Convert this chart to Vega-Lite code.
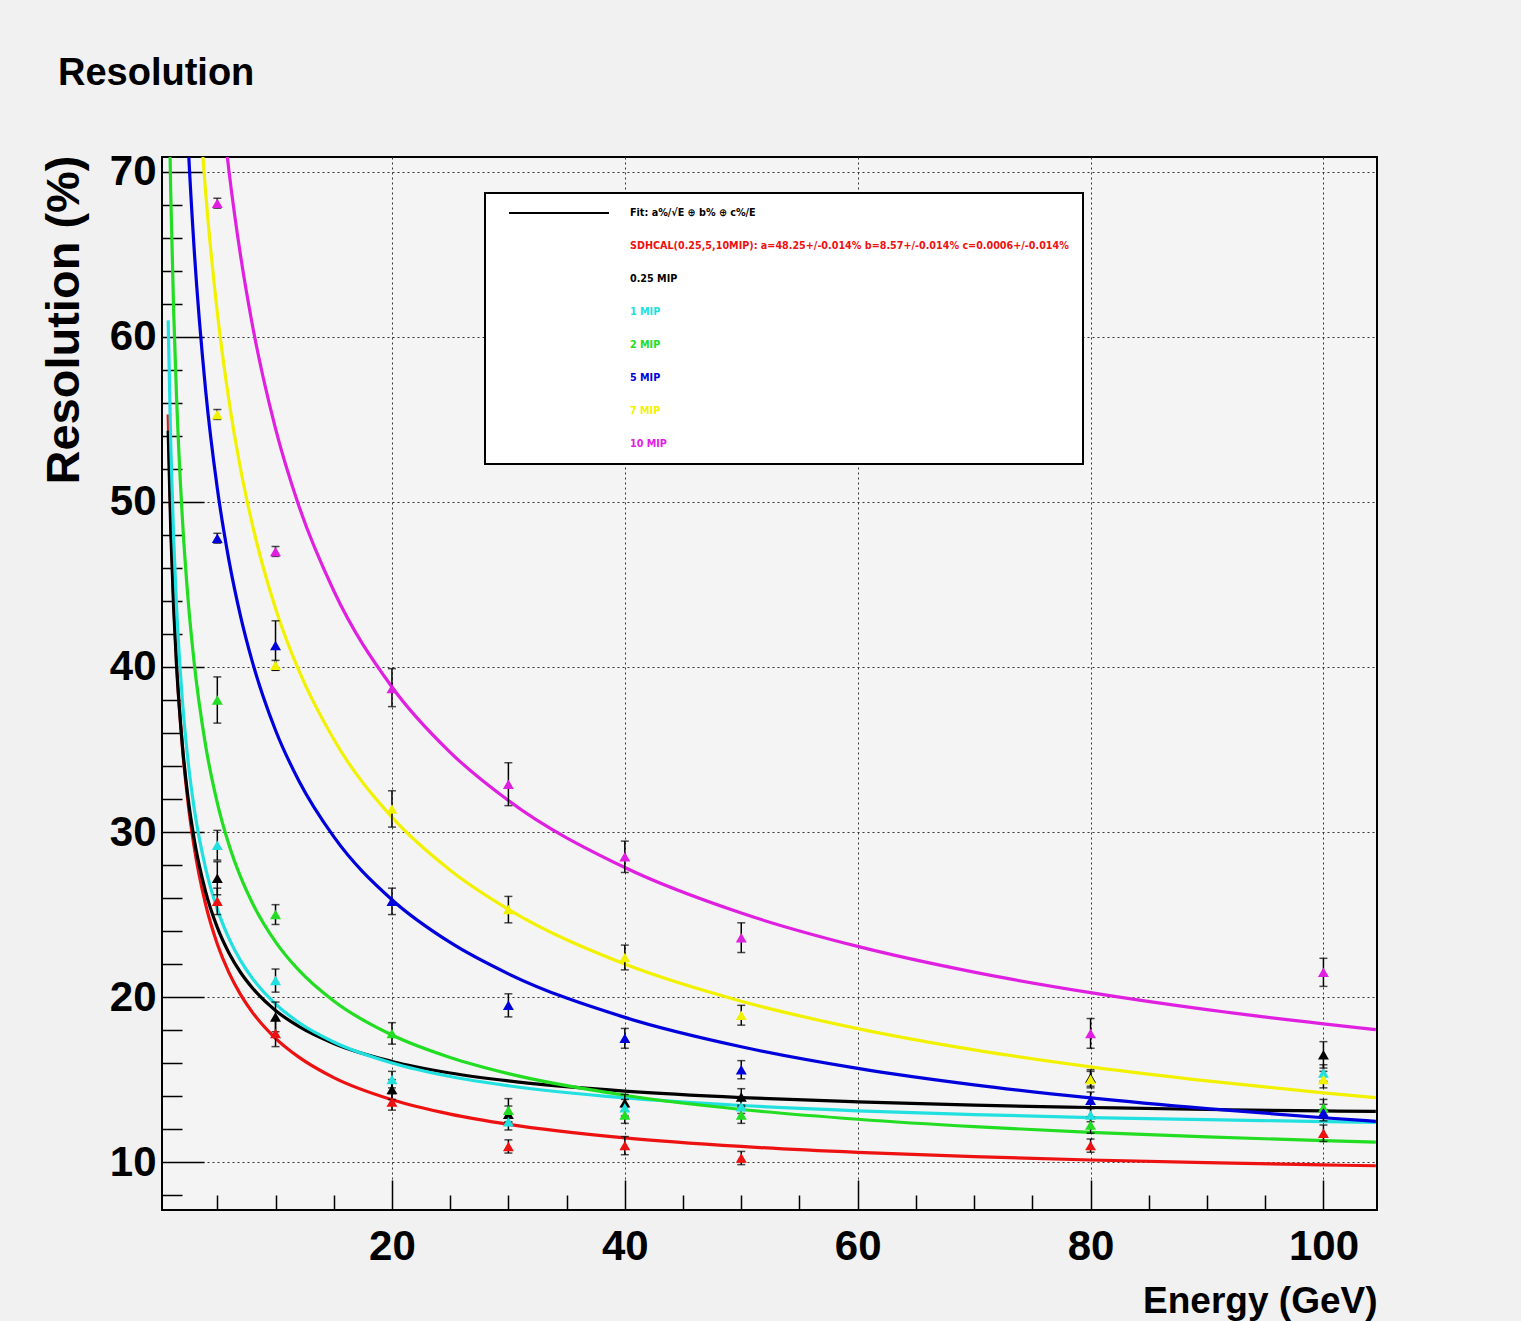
{
  "$schema": "https://vega.github.io/schema/vega-lite/v6.json",
  "width": 1215,
  "height": 1053,
  "autosize": {"type": "none"},
  "padding": {"left": 162, "top": 157, "right": 144, "bottom": 111},
  "background": "#f1f1f1",
  "title": {
    "text": "Resolution",
    "anchor": "start",
    "frame": "group",
    "dx": -104,
    "offset": 28,
    "baseline": "alphabetic",
    "font": "Liberation Sans, Arial, sans-serif",
    "fontSize": 38,
    "fontWeight": "bold",
    "color": "black"
  },
  "config": {
    "view": {"fill": "#f4f4f4", "stroke": "black", "strokeWidth": 2}
  },
  "datasets": {
    "curves": [
      {"s":"SDHCAL","E":0.78,"r":55.30},{"s":"SDHCAL","E":1,"r":49.01},{"s":"SDHCAL","E":1.25,"r":44.00},{"s":"SDHCAL","E":1.5,"r":40.32},{"s":"SDHCAL","E":2,"r":35.18},{"s":"SDHCAL","E":2.5,"r":31.70},{"s":"SDHCAL","E":3,"r":29.15},{"s":"SDHCAL","E":4,"r":25.60},{"s":"SDHCAL","E":5,"r":23.22},{"s":"SDHCAL","E":6,"r":21.48},{"s":"SDHCAL","E":7,"r":20.15},{"s":"SDHCAL","E":8,"r":19.09},{"s":"SDHCAL","E":10,"r":17.50},{"s":"SDHCAL","E":12,"r":16.36},{"s":"SDHCAL","E":15,"r":15.12},{"s":"SDHCAL","E":20,"r":13.78},{"s":"SDHCAL","E":25,"r":12.91},{"s":"SDHCAL","E":30,"r":12.29},{"s":"SDHCAL","E":40,"r":11.47},{"s":"SDHCAL","E":50,"r":10.95},{"s":"SDHCAL","E":60,"r":10.59},{"s":"SDHCAL","E":70,"r":10.33},{"s":"SDHCAL","E":80,"r":10.13},{"s":"SDHCAL","E":90,"r":9.97},{"s":"SDHCAL","E":100,"r":9.83},{"s":"SDHCAL","E":104.5,"r":9.78},
      {"s":"0.25 MIP","E":0.78,"r":54.32},{"s":"0.25 MIP","E":1,"r":48.32},{"s":"0.25 MIP","E":1.25,"r":43.56},{"s":"0.25 MIP","E":1.5,"r":40.08},{"s":"0.25 MIP","E":2,"r":35.25},{"s":"0.25 MIP","E":2.5,"r":32.00},{"s":"0.25 MIP","E":3,"r":29.63},{"s":"0.25 MIP","E":4,"r":26.38},{"s":"0.25 MIP","E":5,"r":24.22},{"s":"0.25 MIP","E":6,"r":22.67},{"s":"0.25 MIP","E":7,"r":21.49},{"s":"0.25 MIP","E":8,"r":20.57},{"s":"0.25 MIP","E":10,"r":19.19},{"s":"0.25 MIP","E":12,"r":18.22},{"s":"0.25 MIP","E":15,"r":17.19},{"s":"0.25 MIP","E":20,"r":16.10},{"s":"0.25 MIP","E":25,"r":15.40},{"s":"0.25 MIP","E":30,"r":14.92},{"s":"0.25 MIP","E":40,"r":14.30},{"s":"0.25 MIP","E":50,"r":13.91},{"s":"0.25 MIP","E":60,"r":13.65},{"s":"0.25 MIP","E":70,"r":13.45},{"s":"0.25 MIP","E":80,"r":13.31},{"s":"0.25 MIP","E":90,"r":13.19},{"s":"0.25 MIP","E":100,"r":13.10},{"s":"0.25 MIP","E":104.5,"r":13.07},
      {"s":"1 MIP","E":0.78,"r":61.0},{"s":"1 MIP","E":1,"r":53.54},{"s":"1 MIP","E":1.25,"r":47.79},{"s":"1 MIP","E":1.5,"r":43.64},{"s":"1 MIP","E":2,"r":37.98},{"s":"1 MIP","E":2.5,"r":34.22},{"s":"1 MIP","E":3,"r":31.50},{"s":"1 MIP","E":4,"r":27.79},{"s":"1 MIP","E":5,"r":25.33},{"s":"1 MIP","E":6,"r":23.56},{"s":"1 MIP","E":7,"r":22.21},{"s":"1 MIP","E":8,"r":21.15},{"s":"1 MIP","E":10,"r":19.58},{"s":"1 MIP","E":12,"r":18.46},{"s":"1 MIP","E":15,"r":17.28},{"s":"1 MIP","E":20,"r":16.01},{"s":"1 MIP","E":25,"r":15.19},{"s":"1 MIP","E":30,"r":14.63},{"s":"1 MIP","E":40,"r":13.89},{"s":"1 MIP","E":50,"r":13.43},{"s":"1 MIP","E":60,"r":13.11},{"s":"1 MIP","E":70,"r":12.88},{"s":"1 MIP","E":80,"r":12.70},{"s":"1 MIP","E":90,"r":12.57},{"s":"1 MIP","E":100,"r":12.46},{"s":"1 MIP","E":104.5,"r":12.41},
      {"s":"2 MIP","E":0.78,"r":77.65},{"s":"2 MIP","E":1,"r":68.71},{"s":"2 MIP","E":1.25,"r":61.59},{"s":"2 MIP","E":1.5,"r":56.34},{"s":"2 MIP","E":2,"r":49.00},{"s":"2 MIP","E":2.5,"r":44.01},{"s":"2 MIP","E":3,"r":40.35},{"s":"2 MIP","E":4,"r":35.23},{"s":"2 MIP","E":5,"r":31.77},{"s":"2 MIP","E":6,"r":29.23},{"s":"2 MIP","E":7,"r":27.28},{"s":"2 MIP","E":8,"r":25.72},{"s":"2 MIP","E":10,"r":23.35},{"s":"2 MIP","E":12,"r":21.63},{"s":"2 MIP","E":15,"r":19.76},{"s":"2 MIP","E":20,"r":17.70},{"s":"2 MIP","E":25,"r":16.34},{"s":"2 MIP","E":30,"r":15.36},{"s":"2 MIP","E":40,"r":14.05},{"s":"2 MIP","E":50,"r":13.19},{"s":"2 MIP","E":60,"r":12.60},{"s":"2 MIP","E":70,"r":12.15},{"s":"2 MIP","E":80,"r":11.80},{"s":"2 MIP","E":90,"r":11.53},{"s":"2 MIP","E":100,"r":11.30},{"s":"2 MIP","E":104.5,"r":11.21},
      {"s":"5 MIP","E":1.5,"r":92.4},{"s":"5 MIP","E":2,"r":80.05},{"s":"5 MIP","E":2.5,"r":71.65},{"s":"5 MIP","E":3,"r":65.45},{"s":"5 MIP","E":4,"r":56.75},{"s":"5 MIP","E":5,"r":50.83},{"s":"5 MIP","E":6,"r":46.46},{"s":"5 MIP","E":7,"r":43.07},{"s":"5 MIP","E":8,"r":40.34},{"s":"5 MIP","E":10,"r":36.17},{"s":"5 MIP","E":12,"r":33.11},{"s":"5 MIP","E":15,"r":29.72},{"s":"5 MIP","E":20,"r":25.90},{"s":"5 MIP","E":25,"r":23.31},{"s":"5 MIP","E":30,"r":21.41},{"s":"5 MIP","E":40,"r":18.77},{"s":"5 MIP","E":50,"r":16.99},{"s":"5 MIP","E":60,"r":15.68},{"s":"5 MIP","E":70,"r":14.68},{"s":"5 MIP","E":80,"r":13.89},{"s":"5 MIP","E":90,"r":13.24},{"s":"5 MIP","E":100,"r":12.69},{"s":"5 MIP","E":104.5,"r":12.47},
      {"s":"7 MIP","E":2,"r":97.1},{"s":"7 MIP","E":2.5,"r":86.87},{"s":"7 MIP","E":3,"r":79.32},{"s":"7 MIP","E":3.5,"r":73.45},{"s":"7 MIP","E":4,"r":68.72},{"s":"7 MIP","E":5,"r":61.48},{"s":"7 MIP","E":6,"r":56.15},{"s":"7 MIP","E":7,"r":52.00},{"s":"7 MIP","E":8,"r":48.66},{"s":"7 MIP","E":10,"r":43.55},{"s":"7 MIP","E":12,"r":39.79},{"s":"7 MIP","E":15,"r":35.62},{"s":"7 MIP","E":20,"r":30.90},{"s":"7 MIP","E":25,"r":27.69},{"s":"7 MIP","E":30,"r":25.32},{"s":"7 MIP","E":40,"r":22.00},{"s":"7 MIP","E":50,"r":19.75},{"s":"7 MIP","E":60,"r":18.09},{"s":"7 MIP","E":70,"r":16.80},{"s":"7 MIP","E":80,"r":15.77},{"s":"7 MIP","E":90,"r":14.92},{"s":"7 MIP","E":100,"r":14.20},{"s":"7 MIP","E":104.5,"r":13.91},
      {"s":"10 MIP","E":4,"r":85.67},{"s":"10 MIP","E":5,"r":76.69},{"s":"10 MIP","E":5.5,"r":73.15},{"s":"10 MIP","E":6,"r":70.06},{"s":"10 MIP","E":7,"r":64.91},{"s":"10 MIP","E":8,"r":60.77},{"s":"10 MIP","E":10,"r":54.44},{"s":"10 MIP","E":12,"r":49.77},{"s":"10 MIP","E":15,"r":44.62},{"s":"10 MIP","E":20,"r":38.79},{"s":"10 MIP","E":25,"r":34.83},{"s":"10 MIP","E":30,"r":31.91},{"s":"10 MIP","E":40,"r":27.85},{"s":"10 MIP","E":50,"r":25.09},{"s":"10 MIP","E":60,"r":23.07},{"s":"10 MIP","E":70,"r":21.51},{"s":"10 MIP","E":80,"r":20.27},{"s":"10 MIP","E":90,"r":19.24},{"s":"10 MIP","E":100,"r":18.38},{"s":"10 MIP","E":104.5,"r":18.03}
    ],
    "points": [
      {"s":"SDHCAL","E":5,"r":25.8,"lo":25.0,"hi":26.6},{"s":"0.25 MIP","E":5,"r":27.2,"lo":26.2,"hi":28.2},{"s":"1 MIP","E":5,"r":29.2,"lo":28.3,"hi":30.1},{"s":"2 MIP","E":5,"r":38.0,"lo":36.6,"hi":39.4},{"s":"5 MIP","E":5,"r":47.8,"lo":47.5,"hi":48.1},{"s":"7 MIP","E":5,"r":55.3,"lo":55.0,"hi":55.6},{"s":"10 MIP","E":5,"r":68.1,"lo":67.8,"hi":68.4},
      {"s":"SDHCAL","E":10,"r":17.8,"lo":17.0,"hi":18.6},{"s":"0.25 MIP","E":10,"r":18.8,"lo":17.9,"hi":19.7},{"s":"1 MIP","E":10,"r":21.0,"lo":20.3,"hi":21.7},{"s":"2 MIP","E":10,"r":25.0,"lo":24.4,"hi":25.6},{"s":"5 MIP","E":10,"r":41.3,"lo":39.8,"hi":42.8},{"s":"7 MIP","E":10,"r":40.1,"lo":39.8,"hi":40.4},{"s":"10 MIP","E":10,"r":47.0,"lo":46.7,"hi":47.3},
      {"s":"SDHCAL","E":20,"r":13.65,"lo":13.15,"hi":14.15},{"s":"0.25 MIP","E":20,"r":14.4,"lo":13.8,"hi":15.0},{"s":"1 MIP","E":20,"r":15.0,"lo":14.5,"hi":15.5},{"s":"2 MIP","E":20,"r":17.8,"lo":17.15,"hi":18.45},{"s":"5 MIP","E":20,"r":25.8,"lo":25.0,"hi":26.6},{"s":"7 MIP","E":20,"r":31.4,"lo":30.3,"hi":32.5},{"s":"10 MIP","E":20,"r":38.7,"lo":37.6,"hi":39.9},
      {"s":"SDHCAL","E":30,"r":10.95,"lo":10.55,"hi":11.35},{"s":"0.25 MIP","E":30,"r":12.9,"lo":12.4,"hi":13.4},{"s":"1 MIP","E":30,"r":12.45,"lo":11.95,"hi":12.95},{"s":"2 MIP","E":30,"r":13.15,"lo":12.45,"hi":13.85},{"s":"5 MIP","E":30,"r":19.5,"lo":18.8,"hi":20.2},{"s":"7 MIP","E":30,"r":25.3,"lo":24.5,"hi":26.1},{"s":"10 MIP","E":30,"r":32.9,"lo":31.6,"hi":34.2},
      {"s":"SDHCAL","E":40,"r":11.0,"lo":10.45,"hi":11.55},{"s":"0.25 MIP","E":40,"r":13.6,"lo":13.1,"hi":14.1},{"s":"1 MIP","E":40,"r":13.3,"lo":12.8,"hi":13.8},{"s":"2 MIP","E":40,"r":12.85,"lo":12.35,"hi":13.35},{"s":"5 MIP","E":40,"r":17.5,"lo":16.9,"hi":18.1},{"s":"7 MIP","E":40,"r":22.4,"lo":21.65,"hi":23.15},{"s":"10 MIP","E":40,"r":28.5,"lo":27.55,"hi":29.45},
      {"s":"SDHCAL","E":50,"r":10.25,"lo":9.85,"hi":10.65},{"s":"0.25 MIP","E":50,"r":13.95,"lo":13.45,"hi":14.45},{"s":"1 MIP","E":50,"r":13.35,"lo":12.95,"hi":13.75},{"s":"2 MIP","E":50,"r":12.85,"lo":12.35,"hi":13.35},{"s":"5 MIP","E":50,"r":15.6,"lo":15.05,"hi":16.15},{"s":"7 MIP","E":50,"r":18.9,"lo":18.3,"hi":19.5},{"s":"10 MIP","E":50,"r":23.6,"lo":22.7,"hi":24.5},
      {"s":"SDHCAL","E":80,"r":11.0,"lo":10.6,"hi":11.4},{"s":"0.25 MIP","E":80,"r":15.1,"lo":14.6,"hi":15.6},{"s":"1 MIP","E":80,"r":12.85,"lo":12.45,"hi":13.25},{"s":"2 MIP","E":80,"r":12.25,"lo":11.75,"hi":12.75},{"s":"5 MIP","E":80,"r":13.75,"lo":13.25,"hi":14.25},{"s":"7 MIP","E":80,"r":15.0,"lo":14.5,"hi":15.5},{"s":"10 MIP","E":80,"r":17.8,"lo":16.9,"hi":18.7},
      {"s":"SDHCAL","E":100,"r":11.75,"lo":11.25,"hi":12.25},{"s":"0.25 MIP","E":100,"r":16.5,"lo":15.7,"hi":17.3},{"s":"1 MIP","E":100,"r":15.4,"lo":14.9,"hi":15.9},{"s":"2 MIP","E":100,"r":13.3,"lo":12.8,"hi":13.8},{"s":"5 MIP","E":100,"r":13.0,"lo":12.5,"hi":13.5},{"s":"7 MIP","E":100,"r":15.0,"lo":14.5,"hi":15.5},{"s":"10 MIP","E":100,"r":21.5,"lo":20.65,"hi":22.35}
    ]
  },
  "resolve": {"axis": {"x": "independent", "y": "independent"}},
  "layer": [
    {
      "data": {"name": "curves"},
      "mark": {"type": "line", "interpolate": "monotone", "strokeWidth": 3.2, "clip": true},
      "encoding": {
        "x": {
          "field": "E", "type": "quantitative",
          "scale": {"domain": [0.25, 104.6], "nice": false, "zero": false},
          "axis": {
            "orient": "bottom",
            "values": [20, 40, 60, 80, 100],
            "format": "d",
            "tickSize": -30, "tickColor": "black", "tickWidth": 1.5,
            "domain": false,
            "grid": true, "gridColor": "#333333", "gridDash": [2, 3], "gridWidth": 1,
            "labelFont": "Liberation Sans, Arial, sans-serif",
            "labelFontSize": 42, "labelFontWeight": "bold", "labelColor": "black",
            "labelPadding": 46, "labelBaseline": "top",
            "title": "Energy (GeV)",
            "titleFont": "Liberation Sans, Arial, sans-serif",
            "titleFontSize": 37, "titleFontWeight": "bold", "titleColor": "black",
            "titleAlign": "right", "titleAnchor": "end",
            "titleX": 1215, "titleY": 102, "titleBaseline": "alphabetic"
          }
        },
        "y": {
          "field": "r", "type": "quantitative",
          "scale": {"domain": [7.1, 70.9], "nice": false, "zero": false},
          "axis": {
            "orient": "left",
            "values": [10, 20, 30, 40, 50, 60, 70],
            "tickSize": -42, "tickColor": "black", "tickWidth": 1.5,
            "domain": false,
            "grid": true, "gridColor": "#333333", "gridDash": [2, 3], "gridWidth": 1,
            "labelFont": "Liberation Sans, Arial, sans-serif",
            "labelFontSize": 42, "labelFontWeight": "bold", "labelColor": "black",
            "labelPadding": 48,
            "title": "Resolution (%)",
            "titleFont": "Liberation Sans, Arial, sans-serif",
            "titleFontSize": 47, "titleFontWeight": "bold", "titleColor": "black",
            "titleAngle": -90, "titleAlign": "right", "titleBaseline": "middle",
            "titleX": -98, "titleY": -2
          }
        },
        "color": {
          "field": "s", "type": "nominal",
          "scale": {
            "domain": ["Fit", "SDHCAL", "0.25 MIP", "1 MIP", "2 MIP", "5 MIP", "7 MIP", "10 MIP"],
            "range": ["#000000", "#ee1111", "#000000", "#22e0e0", "#22dd22", "#0000dd", "#f2f200", "#e020e0"]
          },
          "legend": {
            "orient": "none", "legendX": 323, "legendY": 36,
            "title": null,
            "symbolType": "stroke", "symbolSize": 10000, "symbolStrokeWidth": 2,
            "symbolOffset": 13,
            "clipHeight": 20, "rowPadding": 13,
            "padding": 10,
            "labelOffset": 20,
            "labelFont": "DejaVu Sans Condensed, sans-serif",
            "labelFontSize": 10.7, "labelFontWeight": "bold",
            "labelLimit": 0,
            "fillColor": "white", "strokeColor": "black",
            "labelExpr": "datum.value == 'SDHCAL' ? 'SDHCAL(0.25,5,10MIP): a=48.25+/-0.014% b=8.57+/-0.014%  c=0.0006+/-0.014%' : datum.value == 'Fit' ? 'Fit: a%/√E ⊕ b% ⊕ c%/E' : datum.label",
            "encode": {
              "legend": {"update": {"strokeWidth": {"value": 2}}},
              "symbols": {"update": {"strokeOpacity": {"signal": "datum.value == 'Fit' ? 1 : 0"}}},
              "labels": {"update": {"fill": {"scale": "color", "field": "value"}}}
            }
          }
        }
      }
    },
    {
      "data": {"name": "points"},
      "mark": {"type": "errorbar", "ticks": {"size": 8, "color": "black", "thickness": 1.5}, "rule": {"color": "black", "strokeWidth": 1.5}},
      "encoding": {
        "x": {"field": "E", "type": "quantitative", "axis": null},
        "y": {"field": "lo", "type": "quantitative", "axis": null},
        "y2": {"field": "hi"}
      }
    },
    {
      "data": {"name": "points"},
      "mark": {"type": "point", "shape": "triangle-up", "filled": true, "size": 120, "opacity": 1},
      "encoding": {
        "x": {
          "field": "E", "type": "quantitative",
          "axis": {
            "orient": "bottom",
            "values": [5, 10, 15, 25, 30, 35, 45, 50, 55, 65, 70, 75, 85, 90, 95],
            "tickSize": -15, "tickColor": "black", "tickWidth": 1.5,
            "labels": false, "domain": false, "grid": false, "title": null
          }
        },
        "y": {
          "field": "r", "type": "quantitative",
          "axis": {
            "orient": "left",
            "values": [8, 12, 14, 16, 18, 22, 24, 26, 28, 32, 34, 36, 38, 42, 44, 46, 48, 52, 54, 56, 58, 62, 64, 66, 68],
            "tickSize": -20, "tickColor": "black", "tickWidth": 1.5,
            "labels": false, "domain": false, "grid": false, "title": null
          }
        },
        "fill": {
          "field": "s", "type": "nominal",
          "scale": {
            "domain": ["SDHCAL", "0.25 MIP", "1 MIP", "2 MIP", "5 MIP", "7 MIP", "10 MIP"],
            "range": ["#ee1111", "#000000", "#22e0e0", "#22dd22", "#0000dd", "#f2f200", "#e020e0"]
          },
          "legend": null
        }
      }
    }
  ]
}
